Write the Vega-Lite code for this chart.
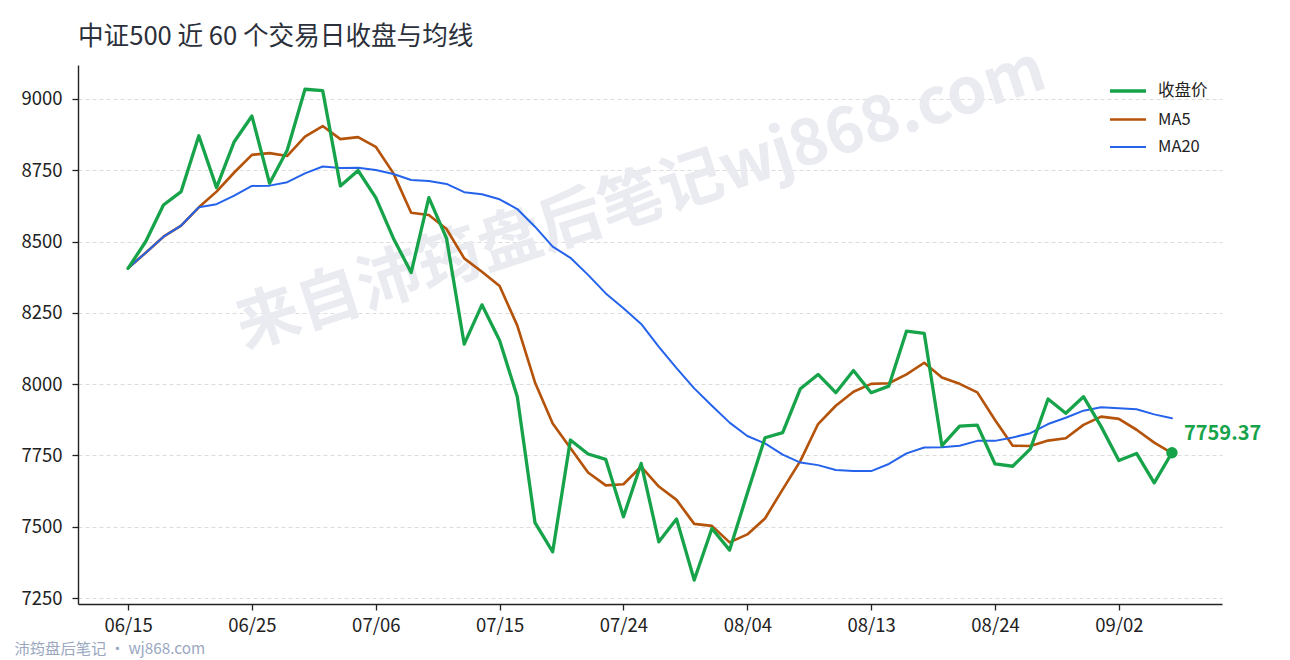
{
  "$schema": "https://vega.github.io/schema/vega-lite/v6.json",
  "width": 1144,
  "height": 539,
  "autosize": {"type": "none"},
  "padding": {"left": 78, "top": 65, "right": 68, "bottom": 56},
  "background": "white",
  "title": {
    "text": "中证500 近 60 个交易日收盘与均线",
    "anchor": "start",
    "frame": "group",
    "align": "left",
    "fontSize": 25.6,
    "fontWeight": "normal",
    "color": "#2b303b",
    "offset": 16,
    "dy": 28
  },
  "datasets": {
    "series": [
      {"i": 0, "s": "MA5", "v": 8406}, {"i": 1, "s": "MA5", "v": 8461}, {"i": 2, "s": "MA5", "v": 8517},
      {"i": 3, "s": "MA5", "v": 8556}, {"i": 4, "s": "MA5", "v": 8620}, {"i": 5, "s": "MA5", "v": 8675},
      {"i": 6, "s": "MA5", "v": 8742}, {"i": 7, "s": "MA5", "v": 8804}, {"i": 8, "s": "MA5", "v": 8810},
      {"i": 9, "s": "MA5", "v": 8800}, {"i": 10, "s": "MA5", "v": 8868}, {"i": 11, "s": "MA5", "v": 8905},
      {"i": 12, "s": "MA5", "v": 8859}, {"i": 13, "s": "MA5", "v": 8866}, {"i": 14, "s": "MA5", "v": 8832},
      {"i": 15, "s": "MA5", "v": 8739}, {"i": 16, "s": "MA5", "v": 8601}, {"i": 17, "s": "MA5", "v": 8593},
      {"i": 18, "s": "MA5", "v": 8544}, {"i": 19, "s": "MA5", "v": 8441}, {"i": 20, "s": "MA5", "v": 8394},
      {"i": 21, "s": "MA5", "v": 8344}, {"i": 22, "s": "MA5", "v": 8205}, {"i": 23, "s": "MA5", "v": 8006},
      {"i": 24, "s": "MA5", "v": 7862}, {"i": 25, "s": "MA5", "v": 7776}, {"i": 26, "s": "MA5", "v": 7690},
      {"i": 27, "s": "MA5", "v": 7645}, {"i": 28, "s": "MA5", "v": 7649}, {"i": 29, "s": "MA5", "v": 7711},
      {"i": 30, "s": "MA5", "v": 7641}, {"i": 31, "s": "MA5", "v": 7594}, {"i": 32, "s": "MA5", "v": 7510},
      {"i": 33, "s": "MA5", "v": 7503}, {"i": 34, "s": "MA5", "v": 7445}, {"i": 35, "s": "MA5", "v": 7473},
      {"i": 36, "s": "MA5", "v": 7529}, {"i": 37, "s": "MA5", "v": 7631}, {"i": 38, "s": "MA5", "v": 7731},
      {"i": 39, "s": "MA5", "v": 7860}, {"i": 40, "s": "MA5", "v": 7924}, {"i": 41, "s": "MA5", "v": 7973},
      {"i": 42, "s": "MA5", "v": 8001}, {"i": 43, "s": "MA5", "v": 8003}, {"i": 44, "s": "MA5", "v": 8034},
      {"i": 45, "s": "MA5", "v": 8075}, {"i": 46, "s": "MA5", "v": 8023}, {"i": 47, "s": "MA5", "v": 8001},
      {"i": 48, "s": "MA5", "v": 7971}, {"i": 49, "s": "MA5", "v": 7874}, {"i": 50, "s": "MA5", "v": 7784},
      {"i": 51, "s": "MA5", "v": 7783}, {"i": 52, "s": "MA5", "v": 7802}, {"i": 53, "s": "MA5", "v": 7810},
      {"i": 54, "s": "MA5", "v": 7857}, {"i": 55, "s": "MA5", "v": 7886}, {"i": 56, "s": "MA5", "v": 7878},
      {"i": 57, "s": "MA5", "v": 7840}, {"i": 58, "s": "MA5", "v": 7795}, {"i": 59, "s": "MA5", "v": 7758},

      {"i": 0, "s": "MA20", "v": 8406}, {"i": 1, "s": "MA20", "v": 8461}, {"i": 2, "s": "MA20", "v": 8517},
      {"i": 3, "s": "MA20", "v": 8556}, {"i": 4, "s": "MA20", "v": 8620}, {"i": 5, "s": "MA20", "v": 8631},
      {"i": 6, "s": "MA20", "v": 8661}, {"i": 7, "s": "MA20", "v": 8695}, {"i": 8, "s": "MA20", "v": 8696},
      {"i": 9, "s": "MA20", "v": 8708}, {"i": 10, "s": "MA20", "v": 8739}, {"i": 11, "s": "MA20", "v": 8763},
      {"i": 12, "s": "MA20", "v": 8758}, {"i": 13, "s": "MA20", "v": 8759}, {"i": 14, "s": "MA20", "v": 8751},
      {"i": 15, "s": "MA20", "v": 8737}, {"i": 16, "s": "MA20", "v": 8716}, {"i": 17, "s": "MA20", "v": 8712},
      {"i": 18, "s": "MA20", "v": 8702}, {"i": 19, "s": "MA20", "v": 8673}, {"i": 20, "s": "MA20", "v": 8666},
      {"i": 21, "s": "MA20", "v": 8648}, {"i": 22, "s": "MA20", "v": 8614}, {"i": 23, "s": "MA20", "v": 8552},
      {"i": 24, "s": "MA20", "v": 8482}, {"i": 25, "s": "MA20", "v": 8443}, {"i": 26, "s": "MA20", "v": 8383},
      {"i": 27, "s": "MA20", "v": 8318}, {"i": 28, "s": "MA20", "v": 8266}, {"i": 29, "s": "MA20", "v": 8211},
      {"i": 30, "s": "MA20", "v": 8131}, {"i": 31, "s": "MA20", "v": 8056}, {"i": 32, "s": "MA20", "v": 7985},
      {"i": 33, "s": "MA20", "v": 7924}, {"i": 34, "s": "MA20", "v": 7865}, {"i": 35, "s": "MA20", "v": 7818},
      {"i": 36, "s": "MA20", "v": 7792}, {"i": 37, "s": "MA20", "v": 7753}, {"i": 38, "s": "MA20", "v": 7725},
      {"i": 39, "s": "MA20", "v": 7716}, {"i": 40, "s": "MA20", "v": 7699}, {"i": 41, "s": "MA20", "v": 7695},
      {"i": 42, "s": "MA20", "v": 7695}, {"i": 43, "s": "MA20", "v": 7720}, {"i": 44, "s": "MA20", "v": 7757},
      {"i": 45, "s": "MA20", "v": 7778}, {"i": 46, "s": "MA20", "v": 7779}, {"i": 47, "s": "MA20", "v": 7784},
      {"i": 48, "s": "MA20", "v": 7801}, {"i": 49, "s": "MA20", "v": 7801}, {"i": 50, "s": "MA20", "v": 7813},
      {"i": 51, "s": "MA20", "v": 7828}, {"i": 52, "s": "MA20", "v": 7860}, {"i": 53, "s": "MA20", "v": 7882},
      {"i": 54, "s": "MA20", "v": 7907}, {"i": 55, "s": "MA20", "v": 7919}, {"i": 56, "s": "MA20", "v": 7915},
      {"i": 57, "s": "MA20", "v": 7912}, {"i": 58, "s": "MA20", "v": 7894}, {"i": 59, "s": "MA20", "v": 7880},

      {"i": 0, "s": "收盘价", "v": 8406}, {"i": 1, "s": "收盘价", "v": 8500}, {"i": 2, "s": "收盘价", "v": 8628},
      {"i": 3, "s": "收盘价", "v": 8675}, {"i": 4, "s": "收盘价", "v": 8871}, {"i": 5, "s": "收盘价", "v": 8689},
      {"i": 6, "s": "收盘价", "v": 8850}, {"i": 7, "s": "收盘价", "v": 8940}, {"i": 8, "s": "收盘价", "v": 8704},
      {"i": 9, "s": "收盘价", "v": 8821}, {"i": 10, "s": "收盘价", "v": 9034}, {"i": 11, "s": "收盘价", "v": 9029},
      {"i": 12, "s": "收盘价", "v": 8695}, {"i": 13, "s": "收盘价", "v": 8749}, {"i": 14, "s": "收盘价", "v": 8654},
      {"i": 15, "s": "收盘价", "v": 8511}, {"i": 16, "s": "收盘价", "v": 8391}, {"i": 17, "s": "收盘价", "v": 8654},
      {"i": 18, "s": "收盘价", "v": 8511}, {"i": 19, "s": "收盘价", "v": 8140}, {"i": 20, "s": "收盘价", "v": 8278},
      {"i": 21, "s": "收盘价", "v": 8153}, {"i": 22, "s": "收盘价", "v": 7956}, {"i": 23, "s": "收盘价", "v": 7514},
      {"i": 24, "s": "收盘价", "v": 7412}, {"i": 25, "s": "收盘价", "v": 7804}, {"i": 26, "s": "收盘价", "v": 7755},
      {"i": 27, "s": "收盘价", "v": 7736}, {"i": 28, "s": "收盘价", "v": 7535}, {"i": 29, "s": "收盘价", "v": 7722},
      {"i": 30, "s": "收盘价", "v": 7447}, {"i": 31, "s": "收盘价", "v": 7527}, {"i": 32, "s": "收盘价", "v": 7313},
      {"i": 33, "s": "收盘价", "v": 7494}, {"i": 34, "s": "收盘价", "v": 7418}, {"i": 35, "s": "收盘价", "v": 7617},
      {"i": 36, "s": "收盘价", "v": 7812}, {"i": 37, "s": "收盘价", "v": 7830}, {"i": 38, "s": "收盘价", "v": 7984},
      {"i": 39, "s": "收盘价", "v": 8034}, {"i": 40, "s": "收盘价", "v": 7970}, {"i": 41, "s": "收盘价", "v": 8048},
      {"i": 42, "s": "收盘价", "v": 7970}, {"i": 43, "s": "收盘价", "v": 7993}, {"i": 44, "s": "收盘价", "v": 8186},
      {"i": 45, "s": "收盘价", "v": 8178}, {"i": 46, "s": "收盘价", "v": 7784}, {"i": 47, "s": "收盘价", "v": 7853},
      {"i": 48, "s": "收盘价", "v": 7856}, {"i": 49, "s": "收盘价", "v": 7720}, {"i": 50, "s": "收盘价", "v": 7712},
      {"i": 51, "s": "收盘价", "v": 7773}, {"i": 52, "s": "收盘价", "v": 7948}, {"i": 53, "s": "收盘价", "v": 7898},
      {"i": 54, "s": "收盘价", "v": 7956}, {"i": 55, "s": "收盘价", "v": 7851}, {"i": 56, "s": "收盘价", "v": 7732},
      {"i": 57, "s": "收盘价", "v": 7757}, {"i": 58, "s": "收盘价", "v": 7654}, {"i": 59, "s": "收盘价", "v": 7759.37}
    ],
    "last": [{"i": 59, "v": 7759.37, "label": "7759.37"}],
    "mark": [{"i": 29, "v": 8646, "t": "来自沛筠盘后笔记wj868.com"}]
  },
  "layer": [
    {
      "data": {"name": "mark"},
      "mark": {
        "type": "text",
        "angle": -18,
        "align": "center",
        "baseline": "middle",
        "fontSize": 63.5,
        "fontWeight": "bold",
        "color": "#e9ebf1"
      },
      "encoding": {
        "x": {"field": "i", "type": "quantitative"},
        "y": {"field": "v", "type": "quantitative"},
        "text": {"field": "t"}
      }
    },
    {
      "data": {"name": "series"},
      "mark": {"type": "line", "strokeJoin": "round", "strokeCap": "round"},
      "encoding": {
        "x": {"field": "i", "type": "quantitative"},
        "y": {"field": "v", "type": "quantitative"},
        "color": {
          "field": "s",
          "type": "nominal",
          "scale": {"domain": ["收盘价", "MA5", "MA20"], "range": ["#16a34a", "#b45309", "#2563eb"]},
          "legend": {
            "title": null,
            "orient": "none",
            "legendX": 1030,
            "legendY": 6,
            "symbolType": "stroke",
            "symbolSize": 1296,
            "labelFontSize": 16.5,
            "labelColor": "#222222",
            "labelOffset": 10,
            "rowPadding": -7
          }
        },
        "strokeWidth": {
          "field": "s",
          "type": "nominal",
          "scale": {"domain": ["收盘价", "MA5", "MA20"], "range": [3.3, 2, 2]}
        }
      }
    },
    {
      "data": {"name": "last"},
      "mark": {"type": "point", "filled": true, "opacity": 1, "size": 130, "color": "#16a34a"},
      "encoding": {
        "x": {"field": "i", "type": "quantitative"},
        "y": {"field": "v", "type": "quantitative"}
      }
    },
    {
      "data": {"name": "last"},
      "mark": {
        "type": "text",
        "align": "left",
        "baseline": "middle",
        "dx": 12,
        "dy": -19,
        "fontSize": 20,
        "fontWeight": "bold",
        "color": "#16a34a"
      },
      "encoding": {
        "x": {"field": "i", "type": "quantitative"},
        "y": {"field": "v", "type": "quantitative"},
        "text": {"field": "label"}
      }
    }
  ],
  "encoding": {
    "x": {
      "field": "i",
      "type": "quantitative",
      "scale": {"domain": [-2.83, 61.83], "nice": false, "zero": false},
      "axis": {
        "values": [0, 7, 14, 21, 28, 35, 42, 49, 56],
        "labelExpr": "['06/15', '06/25', '07/06', '07/15', '07/24', '08/04', '08/13', '08/24', '09/02'][datum.value / 7]",
        "labelAngle": 0,
        "labelPadding": 6,
        "labelFlush": false,
        "labelOverlap": false,
        "grid": false,
        "title": "沛筠盘后笔记 · wj868.com",
        "titleX": -64,
        "titleY": 44,
        "titleAlign": "left",
        "titleBaseline": "middle",
        "titleFontSize": 15.3,
        "titleFontWeight": "normal",
        "titleColor": "#9aa7bf"
      }
    },
    "y": {
      "field": "v",
      "type": "quantitative",
      "scale": {"domain": [7229, 9119], "nice": false, "zero": false},
      "axis": {
        "values": [7250, 7500, 7750, 8000, 8250, 8500, 8750, 9000],
        "format": "d",
        "title": null,
        "labelPadding": 10,
        "grid": true,
        "gridColor": "#dcdcdc",
        "gridDash": [4, 3],
        "gridWidth": 1
      }
    }
  },
  "config": {
    "font": "Noto Sans CJK SC",
    "view": {"stroke": null},
    "axis": {
      "domainColor": "#222222",
      "domainWidth": 1.4,
      "tickColor": "#222222",
      "tickWidth": 1.3,
      "tickSize": 6,
      "labelFontSize": 18.5,
      "labelColor": "#222222"
    }
  }
}
